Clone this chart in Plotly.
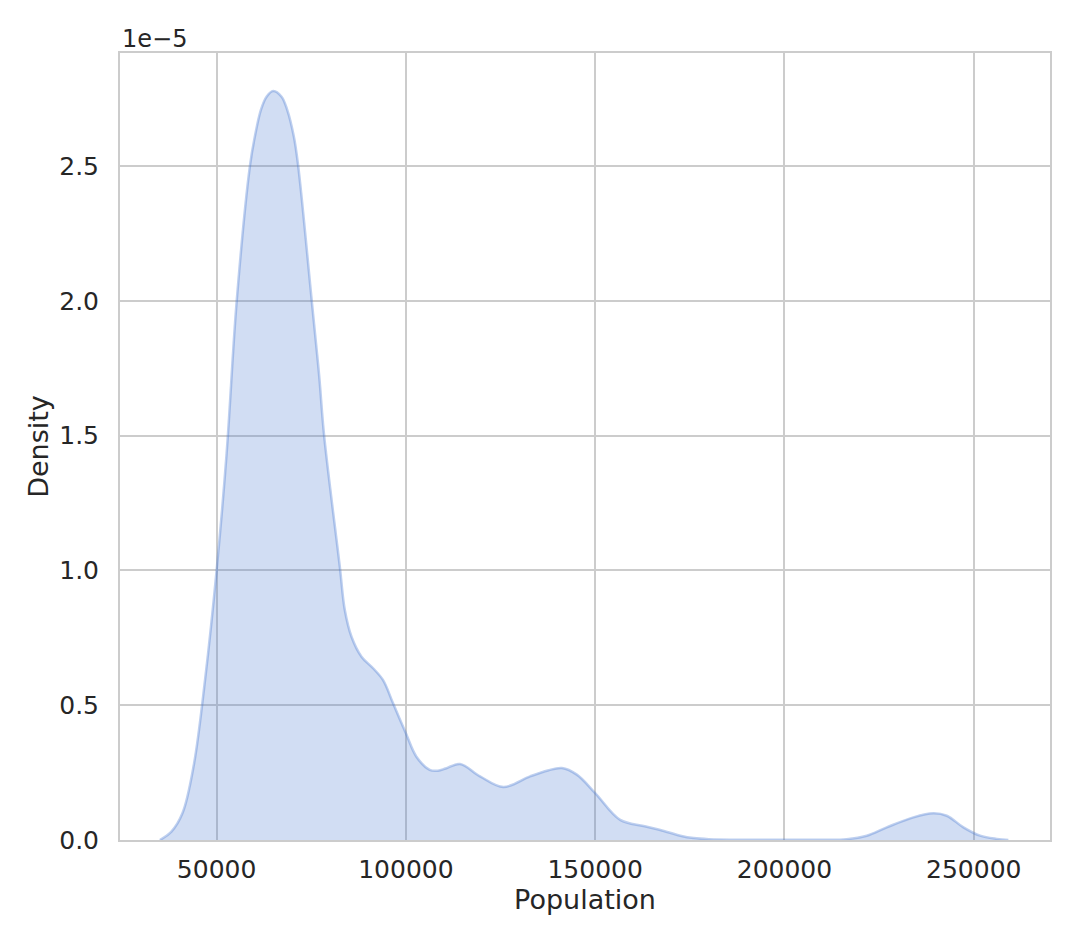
import plotly.graph_objects as go

# Population values (x) and KDE density in units of 1e-5 (y)
population = [35000, 38000, 41000, 44000, 47000, 50000, 52650, 55290, 58800, 60100,
              61700, 63200, 64950, 67150, 68650, 70400, 71550, 75130, 77070, 78400,
              82540, 83860, 85630, 88270, 91330, 93970, 96610, 100000, 102780, 106290,
              108490, 110500, 114290, 119580, 125750, 132800, 137500, 141200, 145150,
              150000, 156610, 162790, 167200, 172490, 176000, 180000, 190000, 200000,
              210000, 216460, 221740, 227020, 234070, 239350, 242870, 247270, 251670,
              256070, 259150]
density_e5 = [0.0, 0.03, 0.10, 0.28, 0.60, 1.0, 1.435, 1.996, 2.5, 2.609,
              2.708, 2.757, 2.778, 2.757, 2.708, 2.609, 2.5, 2.0, 1.725, 1.5,
              1.014, 0.853, 0.754, 0.68, 0.637, 0.593, 0.507, 0.396, 0.309, 0.26,
              0.257, 0.265, 0.282, 0.236, 0.1965, 0.236, 0.258, 0.267, 0.2425,
              0.174, 0.0746, 0.052, 0.037, 0.016, 0.007, 0.003, 0.001, 0.001,
              0.001, 0.003, 0.016, 0.047, 0.084, 0.099, 0.09, 0.047, 0.016,
              0.004, 0.0]

x_ticks = [50000, 100000, 150000, 200000, 250000]
y_ticks = [0.0, 0.5, 1.0, 1.5, 2.0, 2.5]

FONT = "DejaVu Sans"
TXT = "#262626"
GRID = "#cccccc"

fig = go.Figure()
fig.add_trace(go.Scatter(
    x=population, y=density_e5, mode="lines",
    line=dict(color="rgba(72,120,208,0.35)", width=2.5, shape="spline", smoothing=1.0),
    fill="tozeroy", fillcolor="rgba(72,120,208,0.25)",
    showlegend=False, hoverinfo="skip",
))

fig.update_layout(
    width=1080, height=945,
    margin=dict(l=112, r=38, t=45, b=113),
    paper_bgcolor="white", plot_bgcolor="white",
    font=dict(family=FONT, size=25, color=TXT),
    xaxis=dict(
        range=[24480, 270140], tickvals=x_ticks, ticktext=[str(v) for v in x_ticks],
        showgrid=True, gridcolor=GRID, gridwidth=1.5, zeroline=False,
        showline=True, linecolor=GRID, linewidth=2, mirror=True,
        ticks="", ticklen=0, ticklabelstandoff=6,
        title=dict(text="Population", font=dict(size=27, color=TXT), standoff=6),
        tickfont=dict(size=25, color=TXT),
    ),
    yaxis=dict(
        range=[0, 2.919], tickvals=y_ticks, ticktext=[f"{v:.1f}" for v in y_ticks],
        showgrid=True, gridcolor=GRID, gridwidth=1.5, zeroline=False,
        showline=True, linecolor=GRID, linewidth=2, mirror=True,
        ticks="", ticklen=0, ticklabelstandoff=14,
        title=dict(text="Density", font=dict(size=27, color=TXT), standoff=3),
        tickfont=dict(size=25, color=TXT),
    ),
    annotations=[dict(
        text="1e\u22125", x=0, y=1, xref="paper", yref="paper",
        xanchor="left", yanchor="bottom", showarrow=False, yshift=-2,
        font=dict(family=FONT, size=24, color=TXT),
    )],
)

fig.write_html("out.html")
